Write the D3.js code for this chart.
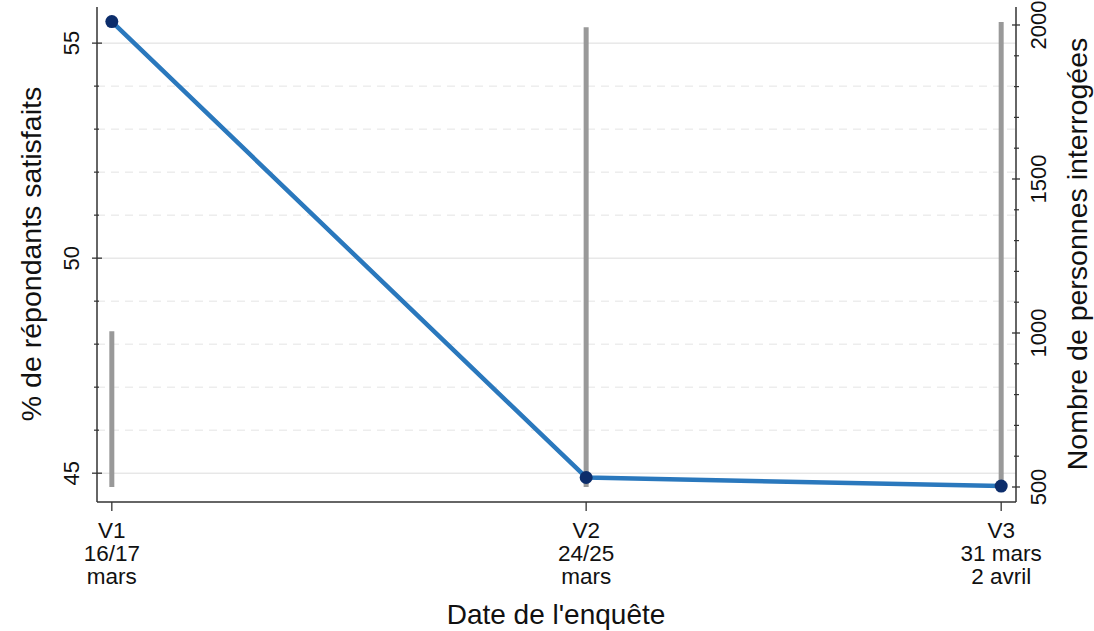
<!DOCTYPE html>
<html>
<head>
<meta charset="utf-8">
<script src="https://cdn.jsdelivr.net/npm/d3@7"></script>
<style>
  html, body { margin: 0; padding: 0; background: #fff; }
  svg { display: block; font-family: "Liberation Sans", Arial, sans-serif; }
</style>
</head>
<body>
<svg id="chart" width="1094" height="631"></svg>
<script>
// ---- Data ----
const waves = ["V1", "V2", "V3"];
const waveDates = [["V1", "16/17", "mars"], ["V2", "24/25", "mars"], ["V3", "31 mars", "2 avril"]];
const waveDay = [16.5, 24.5, 31.5];            // day in March (midpoint)
const satisfied = [55.5, 44.9, 44.7];          // % de répondants satisfaits
const respondents = [1006, 1993, 2010];        // Nombre de personnes interrogées
const respondentsBase = 500;
const leftTicks = [45, 50, 55];
const leftMinor = [46, 47, 48, 49, 51, 52, 53, 54];
const rightTicks = [500, 1000, 1500, 2000];
const rightMinor = [600, 700, 800, 900, 1100, 1200, 1300, 1400, 1600, 1700, 1800, 1900];

// ---- Layout ----
const svg = d3.select("#chart");
const pL = 97, pR = 1016, pT = 7, pB = 502;

const x = d3.scaleLinear().domain([16.25, 31.75]).range([pL, pR]);
const yL = d3.scaleLinear().domain([44.33, 55.84]).range([pB, pT]);
const yR = d3.scaleLinear().domain([451.3, 2058.4]).range([pB, pT]);

// Gridlines
const g = svg.append("g");
g.selectAll("line.minor").data(leftMinor).join("line").attr("class", "minor")
  .attr("x1", pL).attr("x2", pR)
  .attr("y1", d => yL(d)).attr("y2", d => yL(d))
  .attr("stroke", "#e4e4e4").attr("stroke-width", 1).attr("stroke-dasharray", "8,6");
g.selectAll("line.major").data(leftTicks).join("line").attr("class", "major")
  .attr("x1", pL).attr("x2", pR)
  .attr("y1", d => yL(d)).attr("y2", d => yL(d))
  .attr("stroke", "#dcdcdc").attr("stroke-width", 1);

// Bars (respondents)
svg.append("g").selectAll("line").data(respondents).join("line")
  .attr("x1", (d, i) => x(waveDay[i])).attr("x2", (d, i) => x(waveDay[i]))
  .attr("y1", yR(respondentsBase)).attr("y2", d => yR(d))
  .attr("stroke", "#999999").attr("stroke-width", 5);

// Line (satisfaction)
const line = d3.line().x((d, i) => x(waveDay[i])).y(d => yL(d));
svg.append("path").datum(satisfied)
  .attr("d", line).attr("fill", "none")
  .attr("stroke", "#2a78bd").attr("stroke-width", 4.5).attr("stroke-linejoin", "round");
svg.append("g").selectAll("circle").data(satisfied).join("circle")
  .attr("cx", (d, i) => x(waveDay[i])).attr("cy", d => yL(d)).attr("r", 6.5)
  .attr("fill", "#0c2d6b");

// Axes
const axisColor = "#333";
const tickFont = 22;
// Left axis
const la = svg.append("g");
la.append("line").attr("x1", pL).attr("x2", pL).attr("y1", pT).attr("y2", pB)
  .attr("stroke", axisColor).attr("stroke-width", 1.5);
la.selectAll("line.t").data(leftTicks).join("line").attr("class", "t")
  .attr("x1", pL - 5).attr("x2", pL + 5)
  .attr("y1", d => yL(d)).attr("y2", d => yL(d)).attr("stroke", axisColor).attr("stroke-width", 1.3);
la.selectAll("line.m").data(leftMinor).join("line").attr("class", "m")
  .attr("x1", pL - 3).attr("x2", pL + 2)
  .attr("y1", d => yL(d)).attr("y2", d => yL(d)).attr("stroke", axisColor).attr("stroke-width", 1.2);
la.selectAll("text").data(leftTicks).join("text")
  .attr("transform", d => `translate(79,${yL(d)}) rotate(-90)`)
  .attr("text-anchor", "middle").attr("font-size", tickFont).attr("fill", "#111")
  .text(d => d);

// Right axis
const ra = svg.append("g");
ra.append("line").attr("x1", pR).attr("x2", pR).attr("y1", pT).attr("y2", pB)
  .attr("stroke", axisColor).attr("stroke-width", 1.5);
ra.selectAll("line.t").data(rightTicks).join("line").attr("class", "t")
  .attr("x1", pR - 4).attr("x2", pR + 4)
  .attr("y1", d => yR(d)).attr("y2", d => yR(d)).attr("stroke", axisColor).attr("stroke-width", 1.3);
ra.selectAll("line.m").data(rightMinor).join("line").attr("class", "m")
  .attr("x1", pR - 2).attr("x2", pR + 3)
  .attr("y1", d => yR(d)).attr("y2", d => yR(d)).attr("stroke", axisColor).attr("stroke-width", 1.2);
ra.selectAll("text").data(rightTicks).join("text")
  .attr("transform", d => `translate(1046,${yR(d)}) rotate(-90)`)
  .attr("text-anchor", "middle").attr("font-size", tickFont).attr("fill", "#111")
  .text(d => d);

// Bottom axis
const ba = svg.append("g");
ba.append("line").attr("x1", pL).attr("x2", pR).attr("y1", pB).attr("y2", pB)
  .attr("stroke", axisColor).attr("stroke-width", 1.5);
ba.selectAll("line.t").data(waveDay).join("line").attr("class", "t")
  .attr("x1", d => x(d)).attr("x2", d => x(d))
  .attr("y1", pB).attr("y2", pB + 9).attr("stroke", axisColor).attr("stroke-width", 1.3);
const tl = ba.selectAll("text").data(waveDates).join("text")
  .attr("text-anchor", "middle").attr("font-size", 22.5).attr("fill", "#111")
  .attr("x", (d, i) => x(waveDay[i]));
tl.each(function (d, i) {
  d3.select(this).selectAll("tspan").data(d).join("tspan")
    .attr("x", x(waveDay[i])).attr("y", (t, j) => 538 + j * 23).text(t => t);
});

// Axis titles
svg.append("text").attr("x", 556).attr("y", 624).attr("text-anchor", "middle")
  .attr("font-size", 28).attr("fill", "#111").text("Date de l'enquête");
svg.append("text").attr("transform", "translate(41,254) rotate(-90)").attr("text-anchor", "middle")
  .attr("font-size", 28.5).attr("fill", "#111").text("% de répondants satisfaits");
svg.append("text").attr("transform", "translate(1087,254) rotate(-90)").attr("text-anchor", "middle")
  .attr("font-size", 28.5).attr("fill", "#111").text("Nombre de personnes interrogées");
</script>
</body>
</html>
